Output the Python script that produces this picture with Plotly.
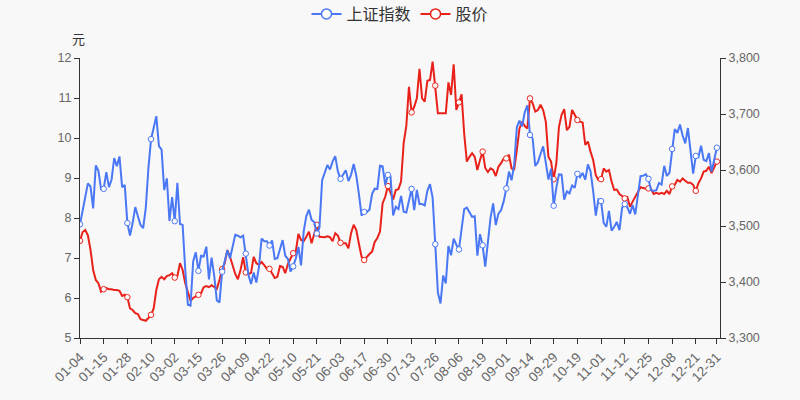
import plotly.graph_objects as go

# ---- data ----
months_days = {
    "01": [4,5,6,7,8,11,12,13,14,15,18,19,20,21,22,25,26,27,28,29],
    "02": [1,2,3,4,5,8,9,10,18,19,22,23,24,25,26],
    "03": [1,2,3,4,5,8,9,10,11,12,15,16,17,18,19,22,23,24,25,26,29,30,31],
    "04": [1,2,6,7,8,9,12,13,14,15,16,19,20,21,22,23,26,27,28,29,30],
    "05": [6,7,10,11,12,13,14,17,18,19,20,21,24,25,26,27,28,31],
    "06": [1,2,3,4,7,8,9,10,11,15,16,17,18,21,22,23,24,25,28,29,30],
    "07": [1,2,5,6,7,8,9,12,13,14,15,16,19,20,21,22,23,26,27,28,29,30],
    "08": [2,3,4,5,6,9,10,11,12,13,16,17,18,19,20,23,24,25,26,27,30,31],
    "09": [1,2,3,6,7,8,9,10,13,14,15,16,17,22,23,24,27,28,29,30],
    "10": [8,11,12,13,14,15,18,19,20,21,22,25,26,27,28,29],
    "11": [1,2,3,4,5,8,9,10,11,12,15,16,17,18,19,22,23,24,25,26,29,30],
    "12": [1,2,3,6,7,8,9,10,13,14,15,16,17,20,21,22,23,24,27,28,29,30,31],
}
dates = [f"{m}-{d:02d}" for m, ds in months_days.items() for d in ds]

sse_index = [
    3502.96,3528.68,3550.88,3576.20,3570.11,3531.50,3608.34,3598.65,3565.90,3566.38,
    3596.22,3569.43,3583.09,3621.26,3606.75,3624.24,3569.43,3573.34,3505.18,3483.07,
    3505.28,3533.68,3517.31,3501.86,3496.33,3532.44,3603.49,3655.09,3675.36,3696.17,
    3642.44,3636.36,3564.08,3585.05,3509.08,
    3551.40,3508.59,3576.90,3503.49,3501.99,3421.41,3359.29,3357.74,3436.83,3453.08,
    3419.95,3446.73,3445.55,3463.07,3404.66,3443.44,3411.51,3367.06,3363.59,3418.33,
    3435.30,3456.68,3441.91,
    3466.33,3484.39,3482.59,3479.63,3482.55,3450.68,3412.95,3396.47,3416.84,3398.99,
    3426.62,3477.55,3472.94,3472.93,3465.11,3474.17,3441.17,3442.61,3457.07,3474.90,3446.86,
    3441.28,3418.87,3427.99,3441.85,3462.75,3429.54,3490.38,3517.62,3529.01,3510.96,
    3506.94,3486.56,3497.28,3581.34,3593.36,3608.85,3600.78,3615.48,
    3624.71,3597.14,3584.22,3591.84,3599.54,3580.11,3591.40,3610.86,3589.75,3556.56,
    3518.33,3525.10,3525.10,3529.18,3557.41,3566.65,3566.22,3607.56,3606.37,3573.18,3591.20,
    3588.78,3518.76,3534.32,3530.26,3553.72,3525.50,3524.09,3547.84,3566.22,3528.50,
    3564.59,3539.30,3539.12,3536.79,3562.70,3574.73,3550.40,3467.44,3381.18,3361.59,
    3411.72,3397.36,
    3464.29,3447.99,3477.22,3466.56,3458.23,3494.63,3529.93,3532.62,3524.74,3516.30,
    3517.34,3446.98,3485.29,3465.55,3427.33,3477.13,3514.47,3540.38,3501.66,3522.16,
    3528.15,3543.94,
    3567.10,3597.04,3581.73,3610.00,3676.59,3688.00,3678.00,3703.11,3715.37,3662.60,
    3656.22,3607.09,3613.97,3628.49,3642.22,3613.07,3582.83,3602.22,3536.29,3568.17,
    3592.17,3591.71,3546.94,3561.76,3558.28,3572.37,3568.14,3593.15,3587.00,3594.78,
    3582.60,3609.86,3597.64,3562.31,3518.42,3547.34,
    3544.48,3505.63,3498.54,3526.87,3491.57,3498.63,3507.00,3492.46,3532.79,3539.10,
    3533.30,3521.79,3537.37,3520.71,3560.37,3589.09,3589.75,3592.70,3584.18,3564.09,
    3562.70,3563.89,
    3576.89,3573.84,3607.43,3589.31,3595.09,3637.57,3673.04,3666.35,3681.08,3661.53,
    3647.63,3675.02,3632.36,3593.60,3625.13,3622.62,3643.34,3618.05,3615.97,3630.11,
    3597.00,3619.19,3639.78,
]

stock_price = [
    7.43,7.65,7.70,7.57,7.20,6.70,6.45,6.37,6.16,6.22,
    6.25,6.22,6.22,6.20,6.20,6.18,6.05,6.08,6.02,5.74,
    5.70,5.62,5.60,5.47,5.45,5.43,5.50,5.58,5.74,6.20,
    6.47,6.53,6.47,6.55,6.57,6.62,6.51,6.55,6.87,6.70,
    6.37,6.12,5.93,6.00,6.03,6.08,6.12,6.27,6.30,6.27,
    6.32,6.27,6.23,6.45,6.72,6.87,7.20,7.03,6.78,6.60,
    6.47,6.70,7.02,6.64,6.60,6.63,7.03,6.87,6.83,6.90,
    6.82,6.73,6.73,6.62,6.50,6.53,6.80,6.78,6.62,6.85,
    6.99,7.12,7.16,7.60,7.45,7.42,7.53,7.66,7.37,7.62,
    7.83,7.53,7.53,7.52,7.54,7.52,7.42,7.62,7.56,7.38,
    7.37,7.37,7.24,7.62,7.83,7.70,7.35,7.03,6.95,7.03,
    7.10,7.16,7.40,7.50,7.66,8.37,8.53,8.80,8.60,8.46,
    8.70,8.72,8.91,9.87,10.30,11.28,10.64,10.78,10.99,11.73,
    10.99,10.91,11.43,11.45,11.91,11.31,10.62,10.62,10.62,10.62,
    11.39,11.08,11.84,10.70,10.89,11.09,10.10,9.41,9.53,9.62,
    9.53,9.20,9.45,9.66,9.25,9.15,9.24,9.20,9.05,9.28,
    9.37,9.49,9.49,9.58,9.24,9.22,9.70,10.24,10.41,10.30,
    10.24,10.99,10.87,10.66,10.70,10.83,10.70,10.41,9.53,9.41,
    8.97,9.37,10.28,10.58,10.72,10.20,10.28,10.70,10.58,10.45,
    10.41,10.39,9.83,9.91,9.66,9.45,9.07,8.95,8.97,9.24,
    9.16,9.20,8.91,8.70,8.71,8.60,8.55,8.49,8.52,8.28,
    8.41,8.53,8.62,8.77,8.75,8.73,8.74,8.72,8.60,8.63,
    8.60,8.63,8.60,8.68,8.60,8.79,8.83,8.95,8.91,8.99,
    8.93,8.88,8.88,8.83,8.68,8.87,8.99,9.16,9.18,9.28,
    9.12,9.28,9.41,
]

tick_labels = dates[::9] + [dates[-1]]

# ---- styling ----
BLUE = "#4a78f5"
RED = "#e8221a"
CJK = "Noto Sans CJK SC, sans-serif"
NUM = "Liberation Sans, Arial, sans-serif"
n = len(dates)
marker_idx = set(range(0, n, 9)) | {n - 1}
sizes = [5.5 if i in marker_idx else 0 for i in range(n)]
opac = [1 if i in marker_idx else 0 for i in range(n)]

fig = go.Figure()
fig.add_trace(go.Scatter(
    x=dates, y=sse_index, name="上证指数", yaxis="y2", mode="lines+markers",
    line=dict(color=BLUE, width=2), showlegend=False, legendgroup="a",
    marker=dict(size=sizes, opacity=opac, color="white", line=dict(color=BLUE, width=1)),
))
fig.add_trace(go.Scatter(
    x=dates, y=stock_price, name="股价", yaxis="y", mode="lines+markers",
    line=dict(color=RED, width=2), showlegend=False, legendgroup="b",
    marker=dict(size=sizes, opacity=opac, color="white", line=dict(color=RED, width=1)),
))
# legend entries (line + hollow circle icon)
for name, col, grp in [("上证指数", BLUE, "a"), ("股价", RED, "b")]:
    fig.add_trace(go.Scatter(
        x=[None], y=[None], name=name, mode="lines+markers", legendgroup=grp,
        line=dict(color=col, width=2),
        marker=dict(size=10, color="white", line=dict(color=col, width=1.5)),
    ))

fig.update_layout(
    width=800, height=400,
    margin=dict(l=80, r=79.5, t=58, b=62, autoexpand=False),
    paper_bgcolor="#f8f8f8", plot_bgcolor="#f8f8f8",
    font=dict(family=NUM, color="#666", size=12),
    showlegend=True,
    legend=dict(orientation="h", x=0.5, xanchor="center", y=(338 - 14) / 280, yanchor="middle",
                font=dict(size=16, color="#333", family=CJK), bgcolor="rgba(0,0,0,0)",
                tracegroupgap=0),
    xaxis=dict(
        type="category", categoryorder="array", categoryarray=dates,
        range=[0, 243.2], tickmode="array", tickvals=tick_labels, ticktext=tick_labels,
        tickangle=-45, showgrid=False, zeroline=False,
        showline=True, linecolor="#333", linewidth=1,
        ticks="outside", ticklen=5, tickcolor="#333",
        tickfont=dict(size=13.5, color="#666", family=NUM),
    ),
    yaxis=dict(
        range=[5, 12], dtick=1, showgrid=False, zeroline=False,
        showline=True, linecolor="#333", linewidth=1,
        ticks="outside", ticklen=5, tickcolor="#333",
        tickfont=dict(size=12.5, color="#666", family=NUM),
    ),
    yaxis2=dict(
        range=[3300, 3800], dtick=100, overlaying="y", side="right",
        tickformat=",", showgrid=False, zeroline=False,
        showline=True, linecolor="#333", linewidth=1,
        ticks="outside", ticklen=5, tickcolor="#333",
        tickfont=dict(size=12.5, color="#666", family=NUM),
    ),
    annotations=[dict(
        text="元", xref="paper", yref="paper", x=-0.003, y=(338 - 38) / 280,
        xanchor="center", yanchor="middle", showarrow=False,
        font=dict(size=13, color="#333", family=CJK),
    )],
)

fig.write_html("out.html")
